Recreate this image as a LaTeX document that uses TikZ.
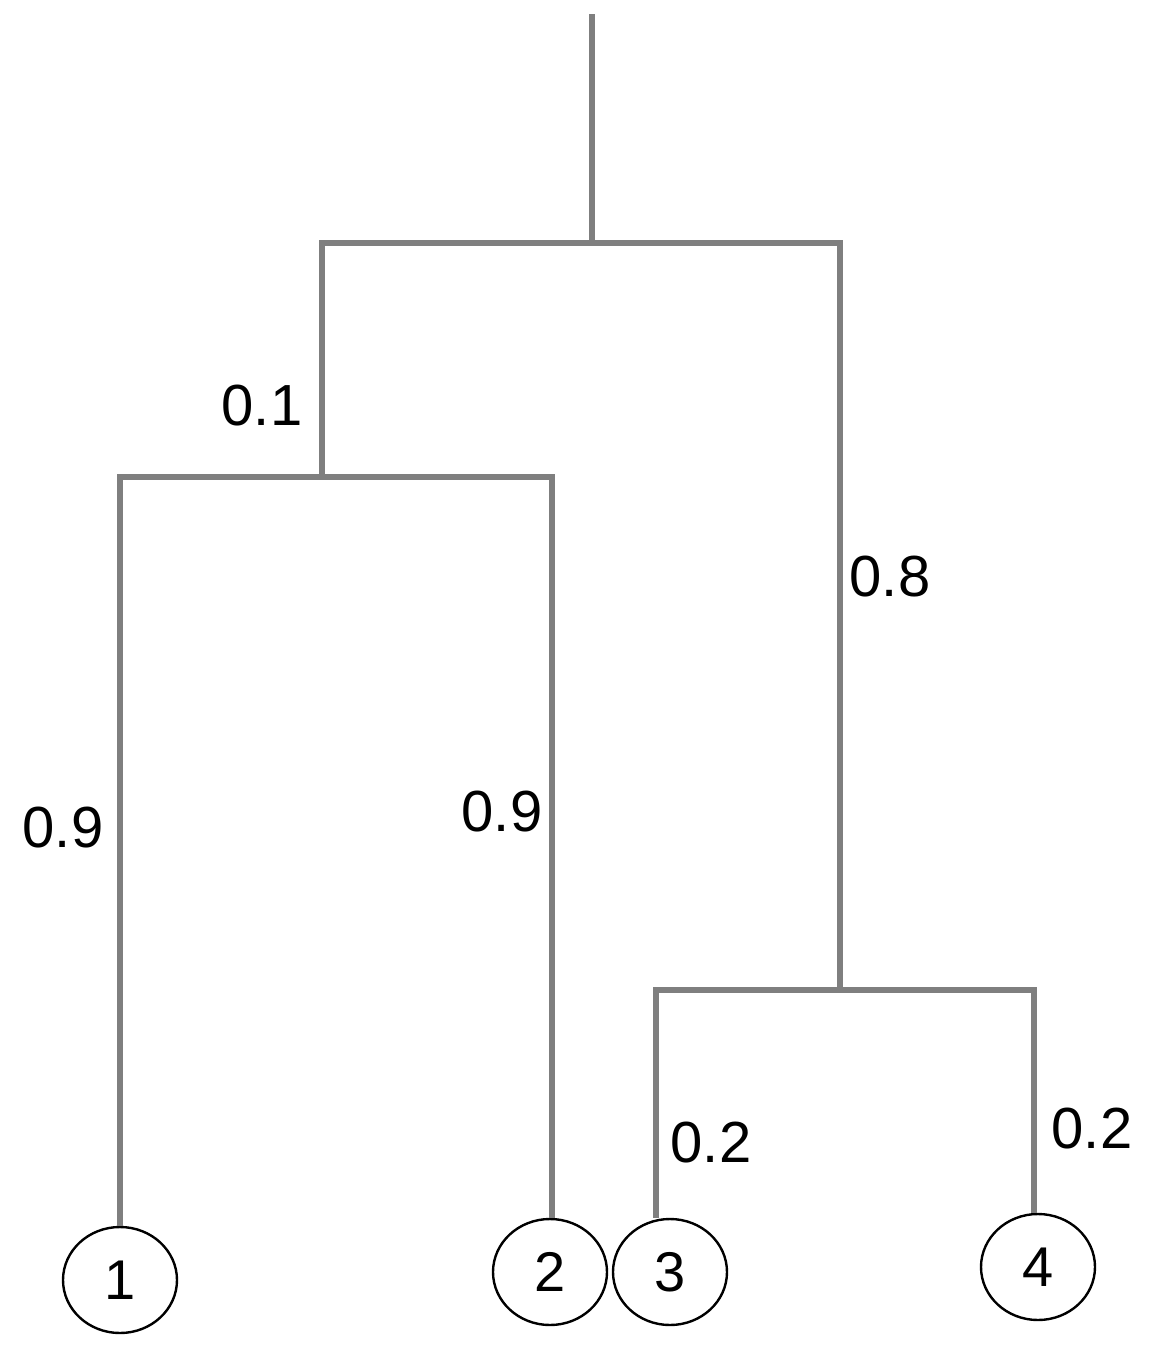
\documentclass[tikz,border=0pt]{standalone}
\usepackage{fontspec}
\setmainfont{Liberation Sans}
\usetikzlibrary{shapes.geometric}
\definecolor{edgegray}{HTML}{7F7F7F}
\begin{document}
\begin{tikzpicture}[x=1pt,y=-1pt,
  edge/.style={draw=edgegray,line width=6.5pt},
  leaf/.style={draw=black,line width=2.4pt,ellipse,minimum width=114pt,minimum height=106pt,inner sep=0pt,font=\fontsize{56}{58}\selectfont},
  wlabel/.style={font=\fontsize{58}{60}\selectfont,inner sep=0pt}]
\useasboundingbox[fill=white] (0,0) rectangle (1160,1361);
\coordinate (top) at (592,14);
\coordinate (root) at (592,243);
\coordinate (n1) at (322,477);
\coordinate (n2) at (840,990);
\node[leaf] (L1) at (120,1280) {1};
\node[leaf] (L2) at (550,1272) {2};
\node[leaf] (L3) at (670,1272) {3};
\node[leaf] (L4) at (1038,1267) {4};
\draw[edge] (top) -- (root);
\draw[edge] (root) -| (n1);
\draw[edge] (root) -| (n2);
\draw[edge] (n1) -| (L1.north);
\draw[edge] (n1) -| ([xshift=2pt]L2.north);
\draw[edge] (n2) -| ([xshift=-14pt]L3.north);
\draw[edge] (n2) -| ([xshift=-4pt]L4.north);
\node[wlabel] (w01) at (262,406) {0.1};
\node[wlabel] (w08) at (890,577) {0.8};
\node[wlabel] (w09a) at (63,828) {0.9};
\node[wlabel] (w09b) at (502,812) {0.9};
\node[wlabel] (w02a) at (711,1143) {0.2};
\node[wlabel] (w02b) at (1092,1129) {0.2};
\end{tikzpicture}
\end{document}
